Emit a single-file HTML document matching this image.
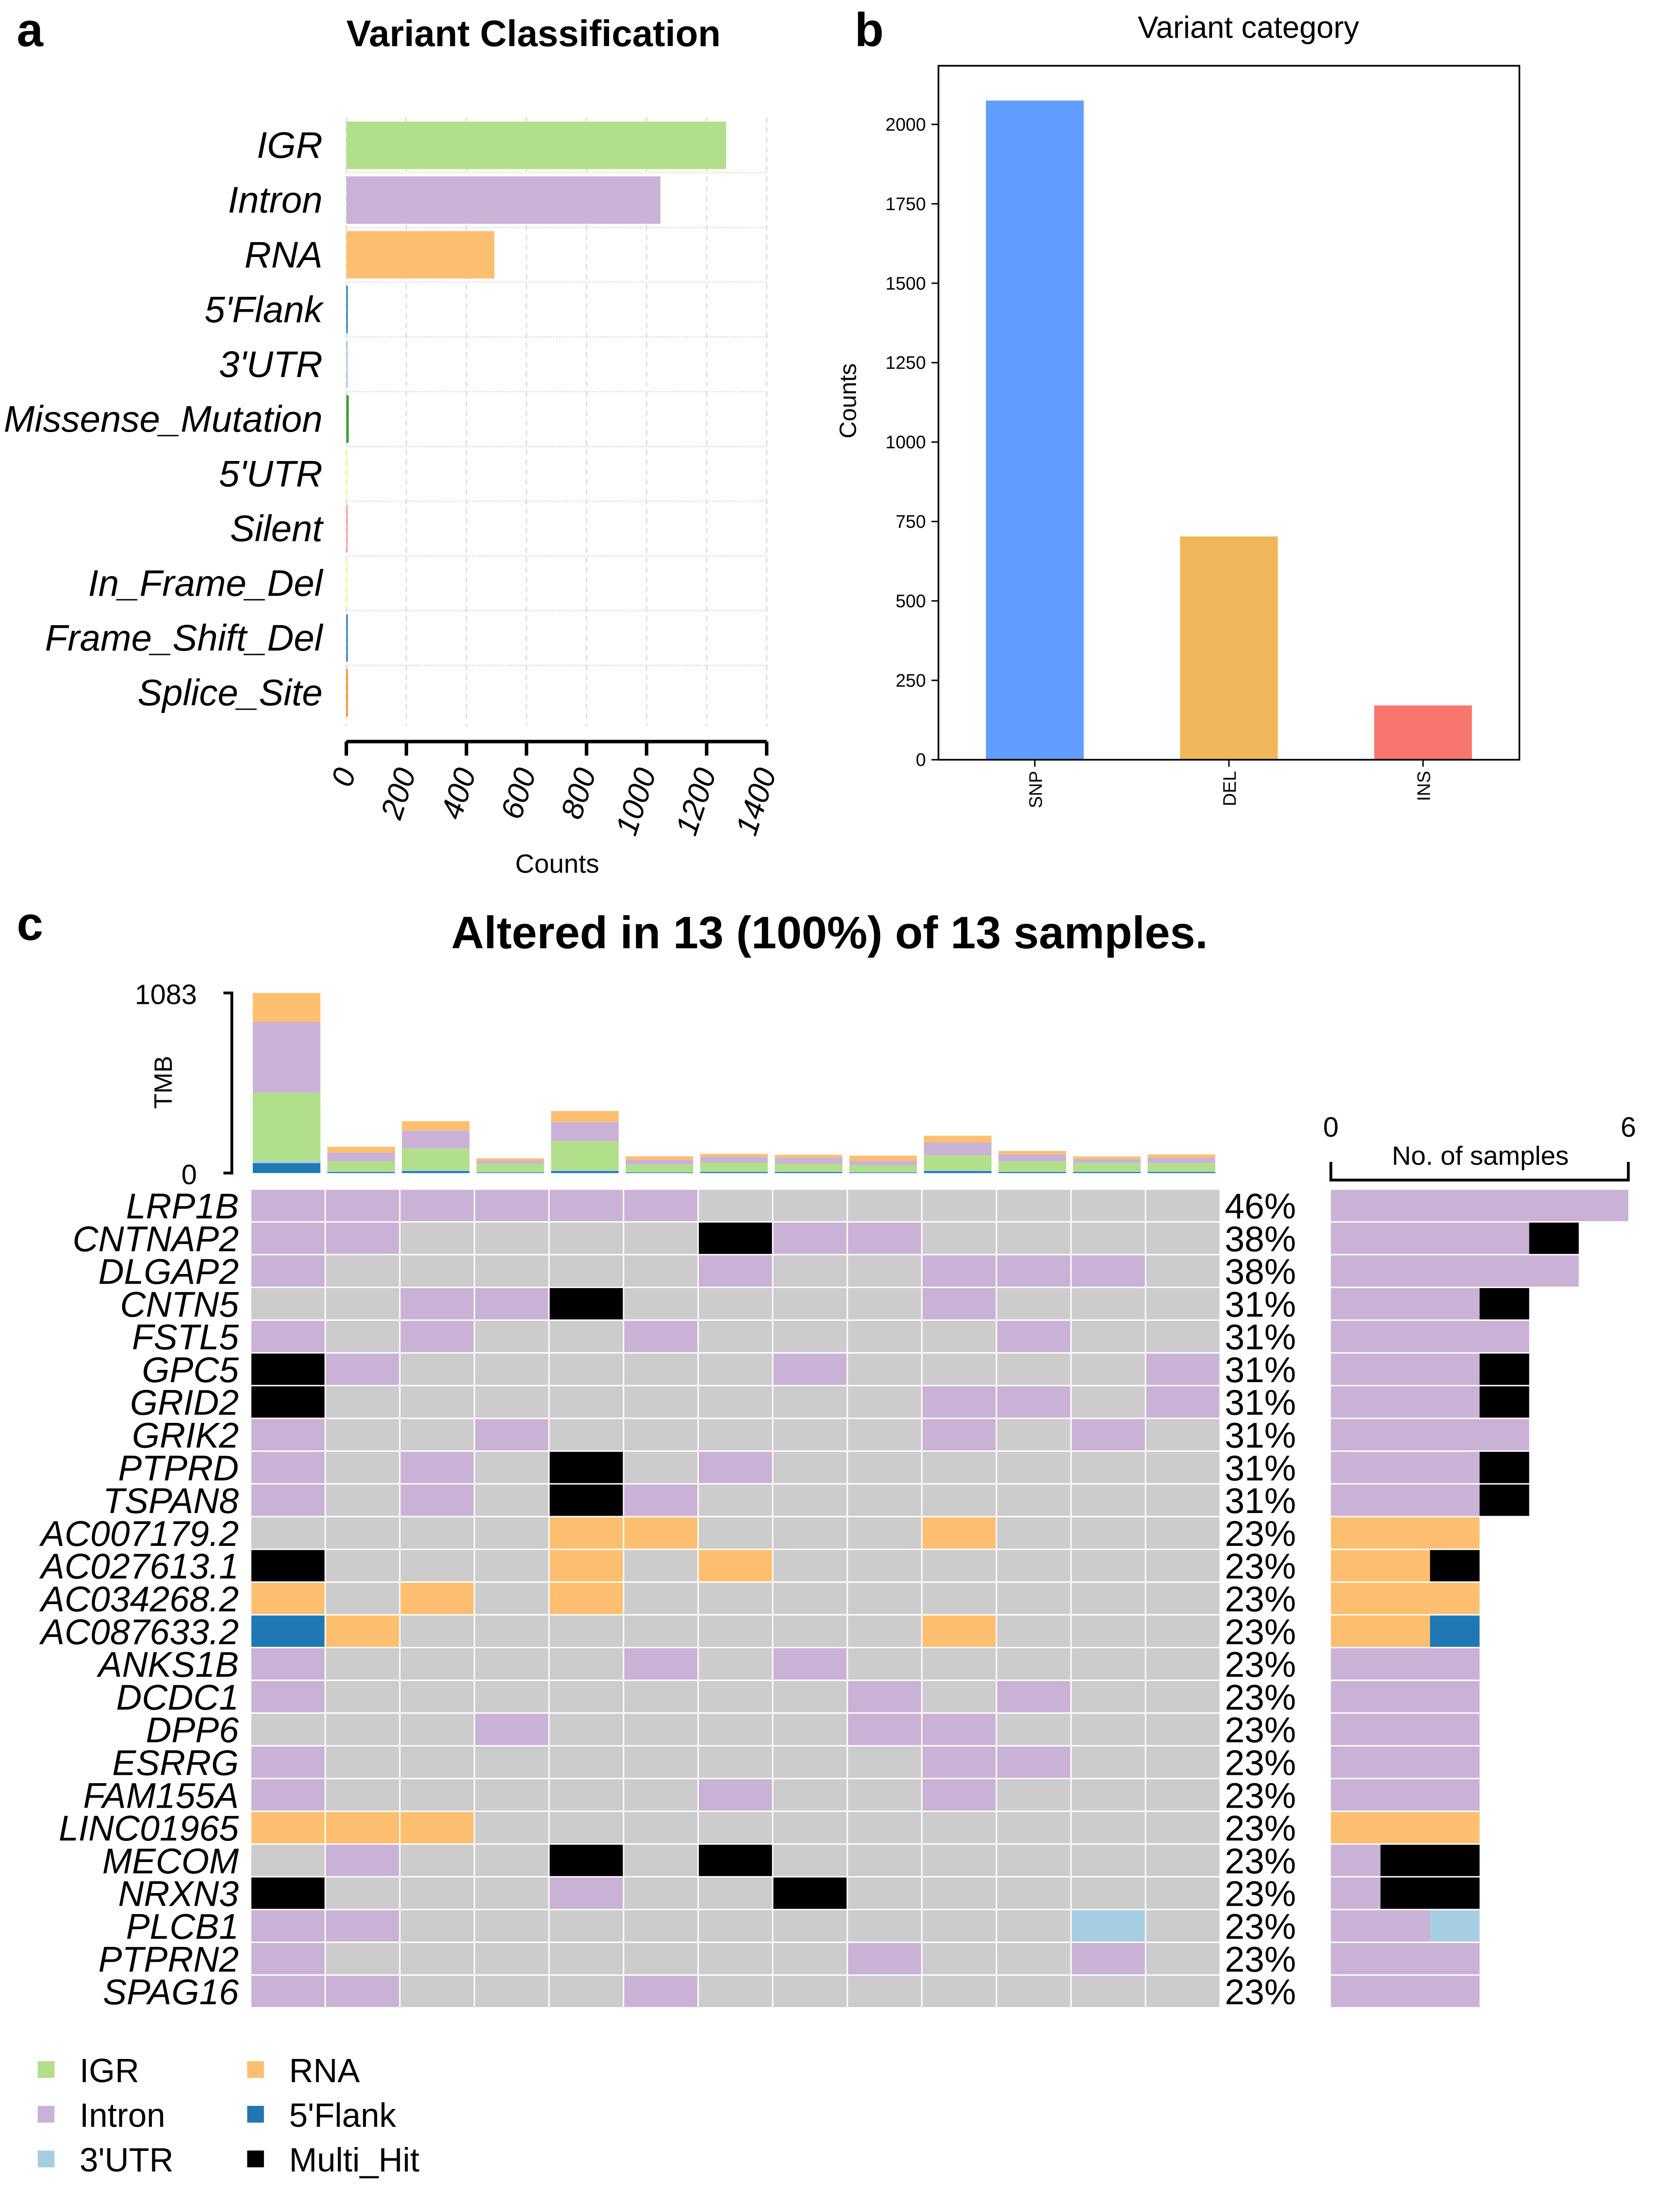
<!DOCTYPE html>
<html><head><meta charset="utf-8"><style>
html,body{margin:0;padding:0;background:#fff;overflow:hidden;width:3837px;height:5107px}
svg{display:block}
text{font-family:"Liberation Sans",sans-serif}
</style></head><body>
<svg id="fig" width="3837" height="5107" viewBox="0 0 1203 1601" xmlns="http://www.w3.org/2000/svg">
<g id="pa"></g>
<g id="pb"></g>
<g id="pc"></g>
</svg>
<script>
// ---- Panel a data ----
const aCats = ["IGR","Intron","RNA","5'Flank","3'UTR","Missense_Mutation","5'UTR","Silent","In_Frame_Del","Frame_Shift_Del","Splice_Site"];
const aVals = [1265,1046,493,3,2,8,1,3,2,4,3];
const aColors = ["#b2df8a","#cab2d6","#fdbf6f","#1f78b4","#a6cee3","#33a02c","#ffff99","#fb9a99","#ffff99","#1f78b4","#ff7f00"];
const aTicks = [0,200,400,600,800,1000,1200,1400];
// ---- Panel b data ----
const bCats = ["SNP","DEL","INS"];
const bVals = [2075,703,171];
const bColors = ["#619cff","#f0b75a","#f8766d"];
const bTicks = [0,250,500,750,1000,1250,1500,1750,2000];
// ---- Panel c data ----
const genes = ["LRP1B","CNTNAP2","DLGAP2","CNTN5","FSTL5","GPC5","GRID2","GRIK2","PTPRD","TSPAN8","AC007179.2","AC027613.1","AC034268.2","AC087633.2","ANKS1B","DCDC1","DPP6","ESRRG","FAM155A","LINC01965","MECOM","NRXN3","PLCB1","PTPRN2","SPAG16"];
// I=Intron R=RNA F=5'Flank U=3'UTR M=Multi_Hit .=none
const matrix = [
"IIIIII.......",
"II....MII....",
"I.....I..III.",
"..IIM....I...",
"I.I..I....I..",
"MI.....I....I",
"M........II.I",
"I..I.....I.I.",
"I.I.M.I......",
"I.I.MI.......",
"....RR...R...",
"M...R.R......",
"R.R.R........",
"FR.......R...",
"I....I.I.....",
"I.......I.I..",
"...I....II...",
"I........II..",
"I.....I..I...",
"RRR..........",
".I..M.M......",
"M...I..M.....",
"II.........U.",
"I.......I..I.",
"II...I......."
];
const tmbIGR =    [410,61,131,50,175,45,52,45,41,90,61,51,50];
const tmbIntron = [427,53,107,19,115,30,36,38,27,77,43,24,33];
const tmbRNA =    [173,34,57,14,66,20,17,17,31,40,19,15,19];
const tmbFlank =  [60,7,12,4,12,4,7,7,4,12,7,7,7];
const tmbUTR3 =   [13,3,5,2,5,2,3,3,2,5,3,3,3];
const tmbMax = 1083;
const codeColor = {I:"#cab2d6",R:"#fdbf6f",F:"#1f78b4",U:"#a6cee3",M:"#000000"};
const legendLabels = ["IGR","Intron","3'UTR","RNA","5'Flank","Multi_Hit"];
const legendColors = ["#b2df8a","#cab2d6","#a6cee3","#fdbf6f","#1f78b4","#000000"];

const NS="http://www.w3.org/2000/svg";
function mk(parent,tag,attrs,txt){const e=document.createElementNS(NS,tag);for(const k in attrs)e.setAttribute(k,attrs[k]);if(txt!==undefined)e.textContent=txt;parent.appendChild(e);return e;}

// ===== Panel a =====
(function(){
const g=document.getElementById('pa');
const x0=248,x1=549,xmax=1400;
const xs=v=>x0+(x1-x0)*v/xmax;
const ys=i=>104+i*39.2;
let t=mk(g,'text',{x:12,y:33,'font-size':34,'font-weight':'bold'},'a');

t=mk(g,'text',{x:382,y:33,'font-size':26.5,'font-weight':'bold','text-anchor':'middle'},'Variant Classification');

aTicks.forEach(v=>{const l=mk(g,'line',{x1:xs(v),x2:xs(v),y1:84,y2:520,stroke:'#ddd','stroke-width':1,'stroke-dasharray':'4,3'});
});
aCats.forEach((c,i)=>{if(i>0){const l=mk(g,'line',{x1:x0,x2:x1,y1:ys(i)-19.6,y2:ys(i)-19.6,stroke:'#ddd','stroke-width':1,'stroke-dasharray':'1,1'});
}});
aCats.forEach((c,i)=>{
const r=mk(g,'rect',{x:x0,y:ys(i)-17,width:Math.max(xs(aVals[i])-x0,1),height:34,fill:aColors[i]});

const t=mk(g,'text',{x:231,y:ys(i)+9,'font-size':26.5,'font-style':'italic','text-anchor':'end'},c);

});
const ax=mk(g,'line',{x1:x0,x2:x1,y1:531,y2:531,stroke:'#000','stroke-width':2.5});

aTicks.forEach(v=>{const l=mk(g,'line',{x1:xs(v),x2:xs(v),y1:531,y2:541,stroke:'#000','stroke-width':2.5});

const t=mk(g,'text',{x:0,y:0,'font-size':22,'font-style':'italic','text-anchor':'end',transform:`translate(${xs(v)+7},553) rotate(-72)`},String(v));
});
t=mk(g,'text',{x:399,y:625,'font-size':19,'text-anchor':'middle'},'Counts');

})();

// ===== Panel b =====
(function(){
const g=document.getElementById('pb');
const L=672,R=1088,T=47,B=544,y0=544,yk=(544-89)/2000;
const ys=v=>y0-v*yk;
let t=mk(g,'text',{x:612,y:33,'font-size':34,'font-weight':'bold'},'b');

t=mk(g,'text',{x:894,y:27,'font-size':22,'text-anchor':'middle'},'Variant category');

bCats.forEach((c,i)=>{const cx=741+i*139;
const r=mk(g,'rect',{x:cx-35,y:ys(bVals[i]),width:70,height:y0-ys(bVals[i]),fill:bColors[i]});

const tk=mk(g,'line',{x1:cx,x2:cx,y1:B,y2:B+5,stroke:'#000','stroke-width':1});

const t=mk(g,'text',{x:0,y:0,'font-size':13,'text-anchor':'end',transform:`translate(${cx+5},552) rotate(-90)`},c);
});
const box=mk(g,'rect',{x:L,y:T,width:R-L,height:B-T,fill:'none',stroke:'#000','stroke-width':1.2});

bTicks.forEach(v=>{const l=mk(g,'line',{x1:L-5,x2:L,y1:ys(v),y2:ys(v),stroke:'#000','stroke-width':1});

const t=mk(g,'text',{x:L-9,y:ys(v)+4.5,'font-size':13,'text-anchor':'end'},String(v));
});
t=mk(g,'text',{x:0,y:0,'font-size':17,'text-anchor':'middle',transform:'translate(613,287) rotate(-90)'},'Counts');

})();

// ===== Panel c =====
(function(){
const g=document.getElementById('pc');
const gx0=180,cw=53.4,gy0=852,rh=23.45;
const tTop=711,tBot=840;
const ty=v=>tBot-(tBot-tTop)*v/tmbMax;
let t=mk(g,'text',{x:12,y:673,'font-size':34,'font-weight':'bold'},'c');

t=mk(g,'text',{x:594,y:679,'font-size':32.5,'font-weight':'bold','text-anchor':'middle'},'Altered in 13 (100%) of 13 samples.');

const series=[[tmbFlank,'#1f78b4','5flank'],[tmbUTR3,'#a6cee3','3utr'],[tmbIGR,'#b2df8a','igr'],[tmbIntron,'#cab2d6','intron'],[tmbRNA,'#fdbf6f','rna']];
for(let s=0;s<13;s++){let acc=0;const bx=gx0+s*cw+1;
series.forEach(([arr,col,nm])=>{const v=arr[s];
const r=mk(g,'rect',{x:bx,y:ty(acc+v),width:cw-5,height:ty(acc)-ty(acc+v),fill:col});
acc+=v;});}
let l=mk(g,'path',{d:`M160,${tTop} H166 V${tBot} H160`,fill:'none',stroke:'#000','stroke-width':2});

t=mk(g,'text',{x:141,y:tTop+8,'font-size':20,'text-anchor':'end'},String(tmbMax));

t=mk(g,'text',{x:141,y:tBot+8,'font-size':20,'text-anchor':'end'},'0');

t=mk(g,'text',{x:0,y:0,'font-size':18,'text-anchor':'middle',transform:'translate(123,775) rotate(-90)'},'TMB');

const bx0=953,bk=(1166-953)/6;
const order=['I','R','U','F','M'];
genes.forEach((gn,r)=>{
const y=gy0+r*rh;const row=matrix[r];let n=0;const cnt={};
for(let c=0;c<13;c++){const ch=row[c];
const rc=mk(g,'rect',{x:gx0+c*cw,y:y,width:cw-1,height:rh-1,fill:ch==='.'?'#cccccc':codeColor[ch]});

if(ch!=='.'){n++;cnt[ch]=(cnt[ch]||0)+1;}}
const gt=mk(g,'text',{x:171,y:y+rh-3,'font-size':25.5,'font-style':'italic','text-anchor':'end'},gn);

const pt=mk(g,'text',{x:877,y:y+rh-3,'font-size':25.5},Math.round(n/13*100)+'%');

let acc=0;order.forEach(k=>{if(cnt[k]){
const br=mk(g,'rect',{x:bx0+acc*bk,y:y,width:cnt[k]*bk,height:rh-1,fill:codeColor[k]});
acc+=cnt[k];}});
});
l=mk(g,'path',{d:`M${bx0},832 V845 H1166 V832`,fill:'none',stroke:'#000','stroke-width':2});

t=mk(g,'text',{x:bx0,y:814,'font-size':20,'text-anchor':'middle'},'0');

t=mk(g,'text',{x:1166,y:814,'font-size':20,'text-anchor':'middle'},'6');

t=mk(g,'text',{x:1060,y:834,'font-size':19,'text-anchor':'middle'},'No. of samples');

legendLabels.forEach((lb,i)=>{const col=Math.floor(i/3),row=i%3;const lx=27+col*150,ly=1476+row*32;
const sq=mk(g,'rect',{x:lx,y:ly,width:12,height:12,fill:legendColors[i]});

const tx=mk(g,'text',{x:lx+30,y:ly+15,'font-size':24},lb);
});
})();
</script>
</body></html>
